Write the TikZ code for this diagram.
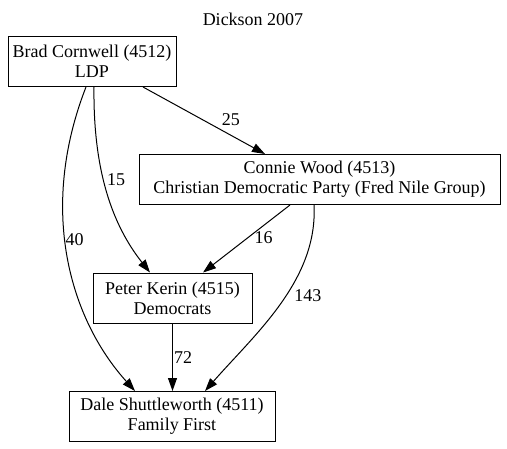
\documentclass[tikz,border=0pt]{standalone}
\usepackage{fontspec}
\setmainfont{Liberation Serif}
\usetikzlibrary{arrows.meta}
\begin{document}
\begin{tikzpicture}[x=1pt,y=-1pt]
            \tikzstyle{cand}=[draw,rectangle,line width=1pt,align=center,inner sep=0,minimum height=50,font=\fontsize{18}{20}\selectfont]
            \tikzstyle{vote}=[-{Triangle[length=13pt,width=9pt]},line width=1pt]
            \tikzstyle{lab}=[inner sep=0,font=\fontsize{18}{20}\selectfont]
            \useasboundingbox (0,0) rectangle (507,448);

            \node(title) at (253,19) [lab]{Dickson 2007};
            \node(b) at (92,61.5) [cand,minimum width=168]{Brad Cornwell (4512)\\LDP};
            \node(c) at (319.5,179.5) [cand,minimum width=361]{Connie Wood (4513)\\Christian Democratic Party (Fred Nile Group)};
            \node(p) at (172.5,298) [cand,minimum width=159]{Peter Kerin (4515)\\Democrats};
            \node(d) at (172,416.5) [cand,minimum width=206]{Dale Shuttleworth (4511)\\Family First};

            \draw[vote] ([xshift=51]b.south) -- ([xshift=-54.5]c.north)
            node[lab,pos=0.49,xshift=28]{25};
            \draw[vote] ([xshift=2]b.south) .. controls +(-1,83) and +(-38,-48) .. ([xshift=-22.5]p.north)
            node[lab,pos=0.43,anchor=west,xshift=3]{15};
            \draw[vote] ([xshift=-6]b.south) .. controls +(-48,123) and +(-65,-72) .. ([xshift=-37]d.north)
            node[lab,pos=0.44,anchor=west]{40};
            \draw[vote] ([xshift=-29.5]c.south) -- ([xshift=30.5]p.north)
            node[lab,pos=0.48,anchor=west,xshift=6]{16};
            \draw[vote] ([xshift=-5.5]c.south) .. controls +(4,75) and +(50,-57) .. ([xshift=33]d.north)
            node[lab,pos=0.45,anchor=west,xshift=8]{143};
            \draw[vote] (p.south) -- (p.south |- d.north)
            node[lab,midway,anchor=west,xshift=1]{72};
\end{tikzpicture}
\end{document}
